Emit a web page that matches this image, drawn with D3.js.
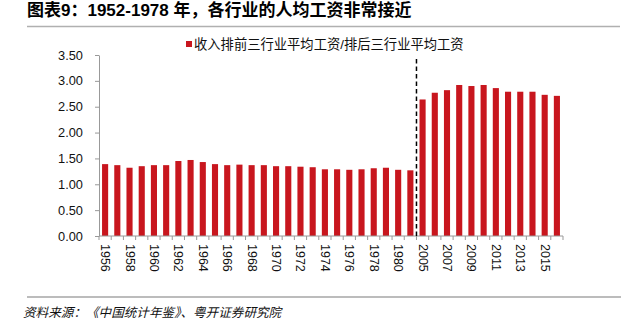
<!DOCTYPE html>
<html><head><meta charset="utf-8">
<script src="https://cdn.jsdelivr.net/npm/d3@7"></script>
<style>
html,body{margin:0;padding:0;background:#fff;}
svg{display:block;}
</style></head>
<body><svg id="c" width="628" height="326"></svg>
<script>
const years = ["1956","1957","1958","1959","1960","1961","1962","1963","1964","1965","1966","1967","1968","1969","1970","1971","1972","1973","1974","1975","1976","1977","1978","1979","1980","1981","2005","2006","2007","2008","2009","2010","2011","2012","2013","2014","2015","2016"];
const ratio = [1.39,1.37,1.32,1.35,1.37,1.37,1.45,1.47,1.43,1.39,1.37,1.38,1.37,1.37,1.35,1.35,1.34,1.33,1.29,1.29,1.28,1.29,1.31,1.32,1.28,1.27,2.64,2.77,2.82,2.92,2.90,2.92,2.86,2.79,2.79,2.79,2.73,2.71];
const xLabels = ["1956","1958","1960","1962","1964","1966","1968","1970","1972","1974","1976","1978","1980","2005","2007","2009","2011","2013","2015"];
const yTicks = [0,0.5,1,1.5,2,2.5,3,3.5];
const breakAfter = "1981";
const title = "图表9：1952-1978 年，各行业的人均工资非常接近";
const legendLabel = "收入排前三行业平均工资/排后三行业平均工资";
const source = "资料来源：《中国统计年鉴》、粤开证券研究院";

const svg = d3.select("#c");
const cjk = "'Liberation Sans', Arial, 'Noto Sans CJK SC', sans-serif";
const red = "#c8161e";

const x = d3.scaleBand().domain(years).range([99, 563]).paddingInner(0.5).paddingOuter(0.25);
const y = d3.scaleLinear().domain([0, 3.5]).range([236, 55]);

// title
svg.append("text").attr("x", 27).attr("y", 16).attr("font-family", cjk)
  .attr("font-size", 17).attr("font-weight", "bold").attr("fill", "#000").text(title);
svg.append("line").attr("x1", 27).attr("x2", 620).attr("y1", 26.5).attr("y2", 26.5)
  .attr("stroke", "#b0b0b0").attr("stroke-width", 1.5);

// legend
svg.append("rect").attr("x", 186).attr("y", 41).attr("width", 6).attr("height", 6).attr("fill", red);
svg.append("text").attr("x", 194).attr("y", 44.5).attr("dominant-baseline", "central")
  .attr("font-family", cjk).attr("font-size", 13.3).attr("fill", "#111").text(legendLabel);

// bars
svg.append("g").selectAll("rect").data(years).join("rect")
  .attr("x", d => x(d)).attr("width", x.bandwidth())
  .attr("y", (d, i) => y(ratio[i])).attr("height", (d, i) => y(0) - y(ratio[i]))
  .attr("fill", red);

// y axis
const ya = svg.append("g").attr("transform", `translate(${x.range()[0]},0)`)
  .call(d3.axisLeft(y).tickValues(yTicks).tickFormat(d3.format(".2f")).tickSize(4).tickSizeOuter(0).tickPadding(12));
ya.select(".domain").attr("stroke", "#999");
ya.selectAll(".tick line").attr("stroke", "#999");
ya.selectAll("text").attr("font-family", cjk).attr("font-size", 12.8).attr("fill", "#111");

// x axis line
svg.append("line").attr("x1", x.range()[0]).attr("x2", x.range()[1]).attr("y1", y(0)).attr("y2", y(0))
  .attr("stroke", "#999");
// boundary ticks
const step = x.step();
const half = (step - x.bandwidth()) / 2;
const bounds = years.map(d => x(d) - half).concat([x(years[years.length - 1]) + x.bandwidth() + half]);
svg.append("g").selectAll("line").data(bounds).join("line")
  .attr("x1", d => d).attr("x2", d => d).attr("y1", y(0)).attr("y2", y(0) + 4)
  .attr("stroke", "#999");
// x labels
svg.append("g").selectAll("text").data(xLabels).join("text")
  .attr("transform", d => `translate(${x(d) + x.bandwidth() / 2},${y(0) + 8}) rotate(90)`)
  .attr("text-anchor", "start").attr("dominant-baseline", "central")
  .attr("font-family", cjk).attr("font-size", 12.5).attr("fill", "#111").text(d => d);

// dashed break line
const bx = x(breakAfter) + x.bandwidth() + half;
svg.append("line").attr("x1", bx).attr("x2", bx).attr("y1", 59).attr("y2", y(0))
  .attr("stroke", "#000").attr("stroke-width", 1.5).attr("stroke-dasharray", "4.5,3");

// footer
svg.append("line").attr("x1", 27).attr("x2", 621).attr("y1", 297).attr("y2", 297)
  .attr("stroke", "#a6a6a6").attr("stroke-width", 1.5);
svg.append("text").attr("x", 23).attr("y", 313).attr("dominant-baseline", "central")
  .attr("font-family", cjk).attr("font-size", 12.6).attr("font-style", "italic").attr("fill", "#111").text(source);
</script></body></html>
